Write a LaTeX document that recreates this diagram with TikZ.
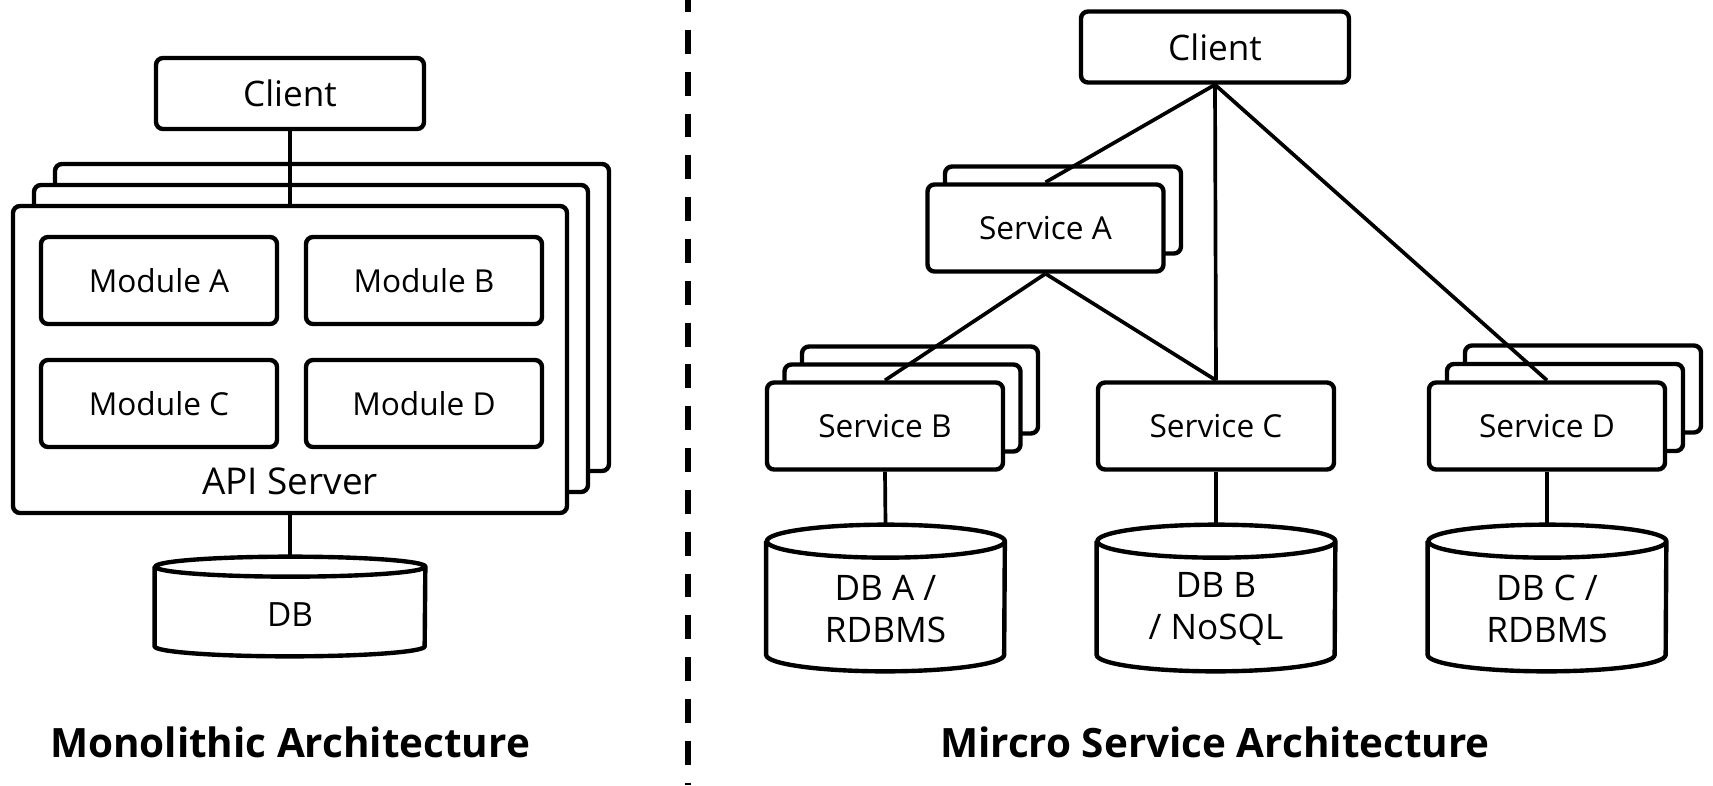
\documentclass[tikz,border=0pt]{standalone}
\usepackage{fontspec}
\setmainfont{Open Sans}
\usetikzlibrary{positioning,calc}

\begin{document}
\begin{tikzpicture}
        \tikzstyle{box}=[rectangle, draw, fill=white, line width=2.5pt, rounded corners=4pt, inner sep=0pt,
                         minimum width=4.72cm, minimum height=1.74cm, font=\fontsize{18}{22}\selectfont]
        \tikzstyle{client}=[box, minimum width=5.36cm, minimum height=1.42cm, font=\fontsize{20}{24}\selectfont]
        \tikzstyle{db}=[rectangle, inner sep=0pt, minimum width=4.76cm, minimum height=2.92cm]
        \tikzstyle{dbline}=[line width=2.5pt]
        \tikzstyle{dbtext}=[align=center, font=\fontsize{20}{24}\selectfont]
        \tikzstyle{conn}=[line width=2.1pt]
        \tikzstyle{title}=[anchor=base, font=\fontsize{23}{27}\selectfont\bfseries]

        \useasboundingbox (0,0) rectangle (34.26,-15.70);

        % monolithic
        \foreach \k in {2,1}
            \node[box, minimum width=11.08cm, minimum height=6.14cm] (api\k) at ($(5.80,-7.19)+(\k*0.42,\k*0.42)$) {};
        \node[box, minimum width=11.08cm, minimum height=6.14cm] (api) at (5.80,-7.19) {};
        \node[client] (cl) at (5.80,-1.87) {Client};
        \node[box] (ma) at (3.18,-5.61) {Module A};
        \node[box] (mb) at (8.48,-5.61) {Module B};
        \node[box] (mc) at (3.18,-8.07) {Module C};
        \node[box] (md) at (8.48,-8.07) {Module D};
        \node[font=\fontsize{21}{25}\selectfont] (apilbl) at (5.80,-9.62) {API Server};
        \node[db, minimum width=5.40cm, minimum height=1.98cm] (db) at (5.80,-12.13) {};
        \node[dbtext, font=\fontsize{19}{23}\selectfont] (dblbl) at (5.80,-12.29) {DB};

        \draw[conn] (cl.south) -- (api.north);
        \draw[conn] (api.south) -- (db.north);

        \node[title] (tl) at (5.80,-15.14) {Monolithic Architecture};

        \draw[line width=3.4pt, dash pattern=on 13.6pt off 10.2pt, dash phase=6.8pt] (13.76,0) -- (13.76,-15.70);

        % micro services
        \foreach \k in {1}
            \node[box] (sa\k) at ($(20.91,-4.56)+(\k*0.35,\k*0.36)$) {};
        \foreach \k in {2,1}
            \node[box] (sb\k) at ($(17.70,-8.52)+(\k*0.35,\k*0.36)$) {};
        \foreach \k in {2,1}
            \node[box] (sd\k) at ($(30.94,-8.52)+(\k*0.36,\k*0.37)$) {};

        \node[client] (cr) at (24.30,-0.94) {Client};
        \node[box] (sa) at (20.91,-4.56) {Service A};
        \node[box] (sb) at (17.70,-8.52) {Service B};
        \node[box] (sc) at (24.32,-8.52) {Service C};
        \node[box] (sd) at (30.94,-8.52) {Service D};

        \node[db] (dba) at (17.71,-11.96) {};
        \node[db] (dbb) at (24.32,-11.96) {};
        \node[db] (dbc) at (30.94,-11.96) {};
        \node[dbtext] (dbalbl) at (17.71,-12.18) {DB A /\\RDBMS};
        \node[dbtext] (dbblbl) at (24.32,-12.18) {DB B\\/ NoSQL};
        \node[dbtext] (dbclbl) at (30.94,-12.18) {DB C /\\RDBMS};

        % cylinders
        \foreach \n/\w/\r in {db/2.70/0.20, dba/2.38/0.33, dbb/2.38/0.33, dbc/2.38/0.33}
            \draw[dbline] ([yshift=-\r cm]\n.north west) -- ([yshift=\r cm]\n.south west)
                arc[start angle=180, end angle=360, x radius=\w cm, y radius=\r cm]
                -- ([yshift=-\r cm]\n.north east)
                arc[start angle=0, end angle=180, x radius=\w cm, y radius=\r cm]
                arc[start angle=180, end angle=360, x radius=\w cm, y radius=\r cm];

        \draw[conn] (cr.south) -- (sa.north);
        \draw[conn] (cr.south) -- (sc.north);
        \draw[conn] (cr.south) -- (sd.north);
        \draw[conn] (sa.south) -- (sb.north);
        \draw[conn] (sa.south) -- (sc.north);
        \draw[conn] (sb.south) -- (dba.north);
        \draw[conn] (sc.south) -- (dbb.north);
        \draw[conn] (sd.south) -- (dbc.north);

        \node[title] (tr) at (24.30,-15.14) {Mircro Service Architecture};

    \end{tikzpicture}
\end{document}
